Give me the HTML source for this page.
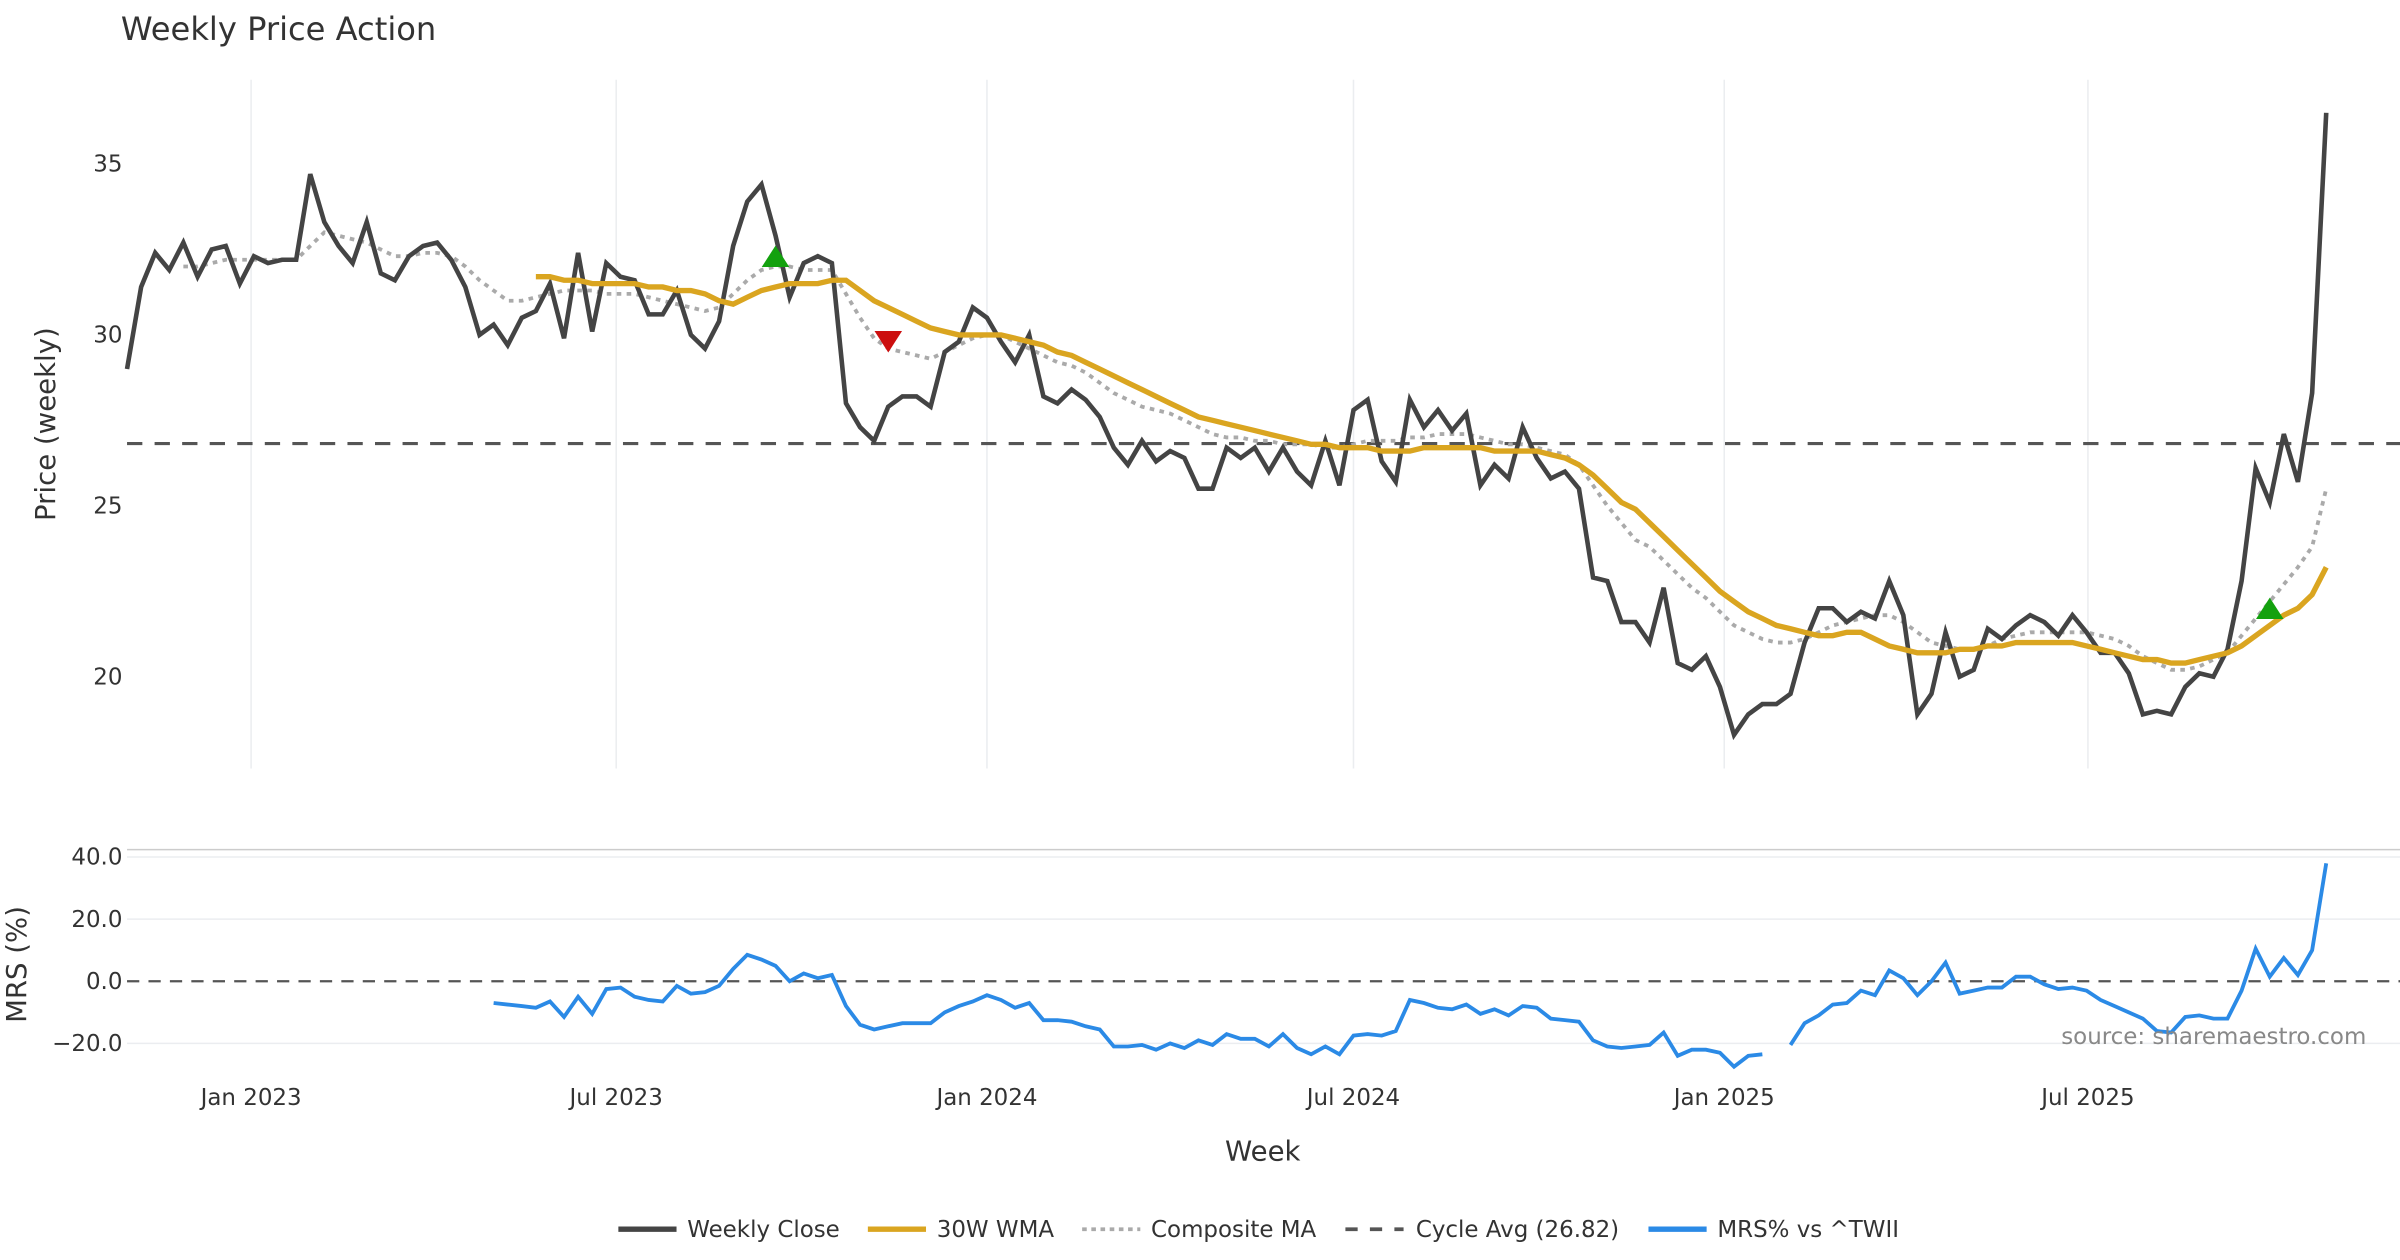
<!DOCTYPE html>
<html><head><meta charset="utf-8"><style>
html,body{margin:0;padding:0;background:#fff;}
svg{display:block;font-family:"DejaVu Sans","Liberation Sans",sans-serif;}
</style></head><body>
<svg id="chart" width="2400" height="1260" viewBox="0 0 1568 823" xmlns="http://www.w3.org/2000/svg">
<rect x="0" y="0" width="1568" height="823" fill="#fff"/>
<text x="79" y="26" font-size="21" fill="#333">Weekly Price Action</text>
<g id="grid"></g>
<g id="series"></g>
<text transform="translate(36,277) rotate(-90)" text-anchor="middle" font-size="18" fill="#333">Price (weekly)</text>
<text transform="translate(17,630) rotate(-90)" text-anchor="middle" font-size="18" fill="#333">MRS (%)</text>
<text x="825" y="758" text-anchor="middle" font-size="18" fill="#333">Week</text>
<text x="1546" y="682" text-anchor="end" font-size="15" fill="#888">source: sharemaestro.com</text>
<g id="legend">
  <line x1="404" y1="803" x2="442" y2="803" stroke="#444" stroke-width="3.5"/>
  <text x="449" y="808" font-size="15" fill="#333">Weekly Close</text>
  <line x1="567" y1="803" x2="605" y2="803" stroke="#DAA520" stroke-width="3.5"/>
  <text x="612" y="808" font-size="15" fill="#333">30W WMA</text>
  <line x1="707" y1="803" x2="745" y2="803" stroke="#aaa" stroke-width="2.5" stroke-dasharray="3,3"/>
  <text x="752" y="808" font-size="15" fill="#333">Composite MA</text>
  <line x1="879" y1="803" x2="917" y2="803" stroke="#555" stroke-width="2.5" stroke-dasharray="8,8"/>
  <text x="925" y="808" font-size="15" fill="#333">Cycle Avg (26.82)</text>
  <line x1="1077" y1="803" x2="1115" y2="803" stroke="#2b8ae6" stroke-width="3.5"/>
  <text x="1122" y="808" font-size="15" fill="#333">MRS% vs ^TWII</text>
</g>
</svg>
<script>
const closeVals=[29.0,31.4,32.4,31.9,32.7,31.7,32.5,32.6,31.5,32.3,32.1,32.2,32.2,34.7,33.3,32.6,32.1,33.3,31.8,31.6,32.3,32.6,32.7,32.2,31.4,30.0,30.3,29.7,30.5,30.7,31.5,29.9,32.4,30.1,32.1,31.7,31.6,30.6,30.6,31.3,30.0,29.6,30.4,32.6,33.9,34.4,32.9,31.1,32.1,32.3,32.1,28.0,27.3,26.9,27.9,28.2,28.2,27.9,29.5,29.8,30.8,30.5,29.8,29.2,30.0,28.2,28.0,28.4,28.1,27.6,26.7,26.2,26.9,26.3,26.6,26.4,25.5,25.5,26.7,26.4,26.7,26.0,26.7,26.0,25.6,26.9,25.6,27.8,28.1,26.3,25.7,28.1,27.3,27.8,27.2,27.7,25.6,26.2,25.8,27.3,26.4,25.8,26.0,25.5,22.9,22.8,21.6,21.6,21.0,22.6,20.4,20.2,20.6,19.7,18.3,18.9,19.2,19.2,19.5,21.0,22.0,22.0,21.6,21.9,21.7,22.8,21.8,18.9,19.5,21.3,20.0,20.2,21.4,21.1,21.5,21.8,21.6,21.2,21.8,21.3,20.7,20.7,20.1,18.9,19.0,18.9,19.7,20.1,20.0,20.8,22.8,26.1,25.1,27.1,25.7,28.3,36.5];
const wmaStart=29;
const wmaVals=[31.7,31.7,31.6,31.6,31.5,31.5,31.5,31.5,31.4,31.4,31.3,31.3,31.2,31.0,30.9,31.1,31.3,31.4,31.5,31.5,31.5,31.6,31.6,31.3,31.0,30.8,30.6,30.4,30.2,30.1,30.0,30.0,30.0,30.0,29.9,29.8,29.7,29.5,29.4,29.2,29.0,28.8,28.6,28.4,28.2,28.0,27.8,27.6,27.5,27.4,27.3,27.2,27.1,27.0,26.9,26.8,26.8,26.7,26.7,26.7,26.6,26.6,26.6,26.7,26.7,26.7,26.7,26.7,26.6,26.6,26.6,26.6,26.5,26.4,26.2,25.9,25.5,25.1,24.9,24.5,24.1,23.7,23.3,22.9,22.5,22.2,21.9,21.7,21.5,21.4,21.3,21.2,21.2,21.3,21.3,21.1,20.9,20.8,20.7,20.7,20.7,20.8,20.8,20.9,20.9,21.0,21.0,21.0,21.0,21.0,20.9,20.8,20.7,20.6,20.5,20.5,20.4,20.4,20.5,20.6,20.7,20.9,21.2,21.5,21.8,22.0,22.4,23.2];
const compStart=4;
const compVals=[32.0,32.0,32.1,32.2,32.2,32.2,32.2,32.2,32.2,32.6,33.0,32.9,32.8,32.7,32.5,32.3,32.3,32.4,32.4,32.3,32.0,31.6,31.3,31.0,31.0,31.1,31.2,31.3,31.3,31.3,31.2,31.2,31.2,31.1,31.0,30.9,30.8,30.7,30.8,31.2,31.6,31.9,32.0,32.0,31.9,31.9,31.9,31.2,30.5,29.9,29.6,29.5,29.4,29.3,29.5,29.7,29.9,30.0,30.0,29.8,29.6,29.4,29.2,29.1,28.9,28.6,28.3,28.1,27.9,27.8,27.7,27.5,27.3,27.1,27.0,27.0,26.9,26.9,26.8,26.8,26.8,26.7,26.7,26.8,26.9,26.9,26.9,27.0,27.0,27.1,27.1,27.1,27.0,26.9,26.8,26.8,26.7,26.6,26.5,26.2,25.6,25.0,24.5,24.0,23.8,23.4,23.0,22.6,22.3,21.9,21.5,21.3,21.1,21.0,21.0,21.1,21.3,21.5,21.6,21.7,21.8,21.8,21.6,21.3,21.0,20.9,20.8,20.8,20.9,21.1,21.2,21.3,21.3,21.3,21.3,21.3,21.2,21.1,20.9,20.6,20.4,20.2,20.2,20.3,20.5,20.7,21.2,21.7,22.2,22.7,23.2,23.8,25.5];
const mrsStart=26;
const mrsVals=[-7,-7.5,-8,-8.5,-6.5,-11.5,-5,-10.5,-2.5,-2,-5,-6,-6.5,-1.5,-4,-3.5,-1.5,4,8.5,7,5,0,2.5,1,2,-8,-14,-15.5,-14.5,-13.5,-13.5,-13.5,-10,-8,-6.5,-4.5,-6,-8.5,-7,-12.5,-12.5,-13,-14.5,-15.5,-21,-21,-20.5,-22,-20,-21.5,-19,-20.5,-17,-18.5,-18.5,-21,-17,-21.5,-23.5,-21,-23.5,-17.5,-17,-17.5,-16,-6,-7,-8.5,-9,-7.5,-10.5,-9,-11,-8,-8.5,-12,-12.5,-13,-19,-21,-21.5,-21,-20.5,-16.5,-24,-22,-22,-23,-27.5,-24,-23.5,null,-20.5,-13.5,-11,-7.5,-7,-3,-4.5,3.5,1,-4.5,0,6,-4,-3,-2,-2,1.5,1.5,-1,-2.5,-2,-3,-6,-8,-10,-12,-16,-16.5,-11.5,-11,-12,-12,-3,10.5,1.5,7.5,2,10,38];
const cycleAvg=26.82;
const priceTicks=[20,25,30,35];
const mrsTicks=[-20,0,20,40];
const mrsTickLabels=["−20.0","0.0","20.0","40.0"];
const xTickIdx=[8.8,34.7,61.0,87.0,113.3,139.1];
const xTickLabels=["Jan 2023","Jul 2023","Jan 2024","Jul 2024","Jan 2025","Jul 2025"];
const buyIdx=[46,152];
const buyVals=[32.3,22.0];
const sellIdx=[54];
const sellVals=[29.8];

const NS="http://www.w3.org/2000/svg";
const X=i=>83+i*9.21;
const YP=v=>442-(v-20)*22.33;
const YM=v=>641-v*2.03;
const grid=document.getElementById('grid'), ser=document.getElementById('series');
function mk(tag,attrs,parent){const e=document.createElementNS(NS,tag);for(const k in attrs)e.setAttribute(k,attrs[k]);parent.appendChild(e);return e;}

xTickIdx.forEach((t,k)=>{
  const l=mk('line',{x1:X(t),x2:X(t),y1:52,y2:502,stroke:'#ebedf0','stroke-width':1},grid);
  
  
  const tx=mk('text',{x:X(t),y:722,'text-anchor':'middle','font-size':15,fill:'#333'},grid);
  tx.textContent=xTickLabels[k];
  
  
});
priceTicks.forEach(v=>{
  const tx=mk('text',{x:80,y:YP(v)+5,'text-anchor':'end','font-size':15,fill:'#333'},grid);
  tx.textContent=v;
  
  
});
const sep=mk('line',{x1:83,x2:1568,y1:555,y2:555,stroke:'#ccc','stroke-width':1},grid);


mrsTicks.forEach((v,k)=>{
  const l=mk('line',{x1:83,x2:1568,y1:YM(v),y2:YM(v),stroke:v===0?'#555':'#ebedf0','stroke-width':v===0?1.5:1},grid);
  if(v===0)l.setAttribute('stroke-dasharray','8,6');
  
  
  const tx=mk('text',{x:80,y:YM(v)+5,'text-anchor':'end','font-size':15,fill:'#333'},grid);
  tx.textContent=mrsTickLabels[k];
  
  
});

function pathFrom(vals,start,Y){
  let d='',pen=false;
  vals.forEach((v,k)=>{if(v===null){pen=false;return;}d+=(pen?'L':'M')+X(start+k).toFixed(1)+','+Y(v).toFixed(1);pen=true;});
  return d;
}
const cyc=mk('line',{x1:83,x2:1568,y1:YP(cycleAvg),y2:YP(cycleAvg),stroke:'#555','stroke-width':2,'stroke-dasharray':'10,8'},ser);


const cm=mk('path',{d:pathFrom(compVals,compStart,YP),fill:'none',stroke:'#aaa','stroke-width':2.5,'stroke-dasharray':'3,3.5'},ser);


const cl=mk('path',{d:pathFrom(closeVals,0,YP),fill:'none',stroke:'#444','stroke-width':3,'stroke-linejoin':'miter'},ser);


const wm=mk('path',{d:pathFrom(wmaVals,wmaStart,YP),fill:'none',stroke:'#DAA520','stroke-width':3.5},ser);


const mr=mk('path',{d:pathFrom(mrsVals,mrsStart,YM),fill:'none',stroke:'#2b8ae6','stroke-width':2.5},ser);


buyIdx.forEach((i,k)=>{
  const x=X(i),y=YP(buyVals[k]);
  const t=mk('polygon',{points:`${x-9},${y+7} ${x+9},${y+7} ${x},${y-7}`,fill:'#13a10e'},ser);
  
  
});
sellIdx.forEach((i,k)=>{
  const x=X(i),y=YP(sellVals[k]);
  const t=mk('polygon',{points:`${x-9},${y-7} ${x+9},${y-7} ${x},${y+7}`,fill:'#cc0f0f'},ser);
  
  
});
</script>
</body></html>
